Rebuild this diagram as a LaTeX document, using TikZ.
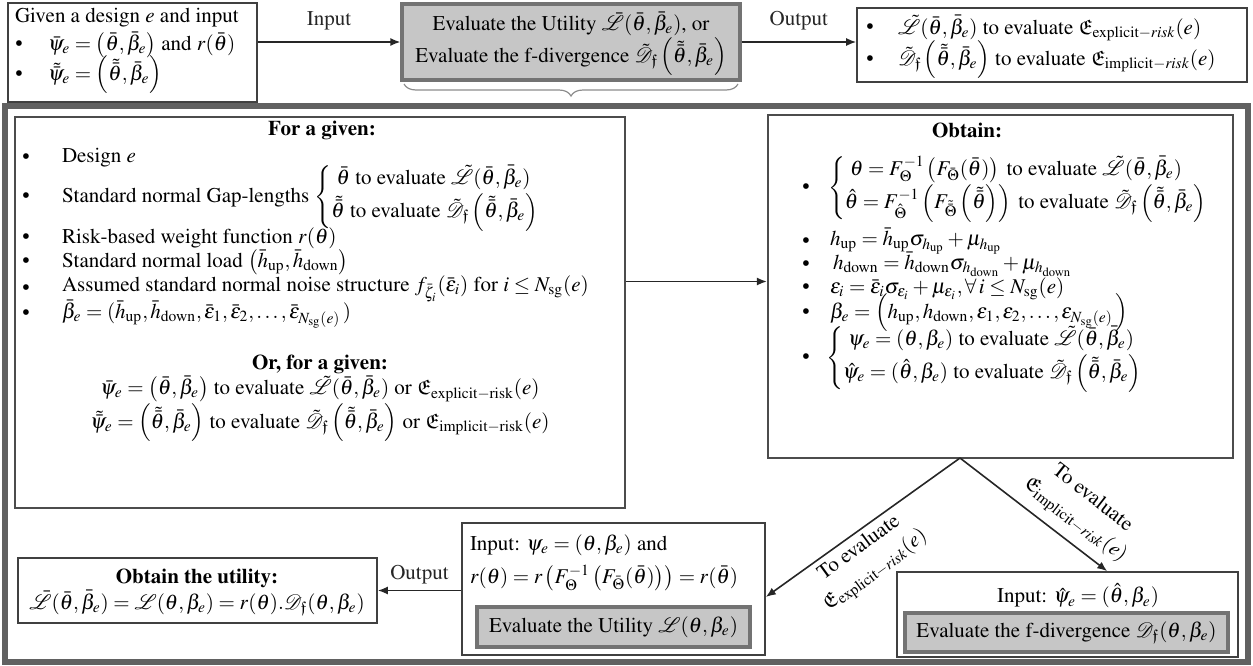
\documentclass[tikz,border=0pt]{standalone}
\usepackage{amsmath,amssymb}
\usepackage[T1]{fontenc}
\usepackage{mathptmx}
\usetikzlibrary{arrows.meta,fit,calc,decorations.pathreplacing}
\tikzset{
  every node/.style={font=\fontsize{10.5}{12.6}\selectfont},
  txt/.style={inner sep=0pt, outer sep=0pt},
  box/.style={draw=black!75, line width=0.8pt, inner sep=0pt, fill=white},
  inbox/.style={draw=black!70, line width=1.1pt, inner sep=0pt, fill=white},
  graybox/.style={draw=black!55, line width=1.6pt, inner sep=0pt, fill=gray!45},
  frame/.style={draw=black!62, line width=2.6pt, inner sep=0pt},
  arr/.style={-{Latex[length=5pt,width=4pt]}, line width=0.8pt, black!85},
  bul/.style={inner sep=0pt, outer sep=0pt}
}
\newcommand{\Lt}{\tilde{\mathcal{L}}}
\newcommand{\Lb}{\bar{\mathcal{L}}}
\newcommand{\Dt}{\tilde{\mathcal{D}}_{\mathfrak{f}}}
\newcommand{\Df}{\mathcal{D}_{\mathfrak{f}}}
\newcommand{\tb}{\bar{\theta}}
\newcommand{\ttb}{\tilde{\bar{\theta}}}
\newcommand{\bb}{\bar{\beta}_e}
\newcommand{\up}{\text{up}}
\newcommand{\dn}{\text{down}}
\newcommand{\bu}{\textbullet}
\begin{document}
\begin{tikzpicture}[x=0.5pt,y=-0.5pt]
\useasboundingbox (0,0) rectangle (1253,665);
% ---------- top row ----------
\node[box, fit={(8,3) (257,102)}] (tl) {};
\node[txt, anchor=west] (tl1) at (15,18) {Given a design $e$ and input};
\node[bul] (tlb1) at (19,46) {\bu};
\node[txt, anchor=west] (tl2) at (48,45) {$\bar{\psi}_e=\left(\tb,\bb\right)$ and $r(\tb)$};
\node[bul] (tlb2) at (19,76) {\bu};
\node[txt, anchor=west] (tl3) at (48,75) {$\tilde{\bar{\psi}}_e=\left(\ttb,\bb\right)$};

\node[graybox, fit={(402,4) (740,80)}] (ev) {};
\node[txt] (ev1) at (571,24) {Evaluate the Utility $\Lb(\tb,\bb)$, or};
\node[txt] (ev2) at (571,57) {Evaluate the f-divergence $\Dt\left(\ttb,\bb\right)$};
\draw[decorate, decoration={brace, mirror, amplitude=6pt}, black!45, line width=0.6pt] (404,84) -- (738,84);

\node[box, fit={(857,8) (1247,82)}] (tr) {};
\node[bul] (trb1) at (870,29) {\bu};
\node[txt, anchor=west] (tr1) at (898,28) {$\Lt(\tb,\bb)$ to evaluate $\mathfrak{E}_{\text{explicit}-\mathit{risk}}(e)$};
\node[bul] (trb2) at (870,61) {\bu};
\node[txt, anchor=west] (tr2) at (898,60) {$\Dt\left(\ttb,\bb\right)$ to evaluate $\mathfrak{E}_{\text{implicit}-\mathit{risk}}(e)$};

\draw[arr] (ev.west -| tl.east) -- (ev.west) node[midway, above=6pt, txt] (lin) {Input};
\draw[arr] (ev.east) -- (ev.east -| tr.west) node[midway, above=6pt, txt] (lout) {Output};

% ---------- frame ----------
\node[frame, fit={(5,106) (1248,662)}] (fr) {};

% ---------- left box ----------
\node[inbox, fit={(15,117) (625,508)}] (lb) {};
\node[txt] (lbh) at (322,130) {\textbf{For a given:}};
\node[bul] (lbb1) at (26,159) {\bu};
\node[txt, anchor=west] (lb1) at (62,158) {Design $e$};
\node[bul] (lbb2) at (26,198) {\bu};
\node[txt, anchor=west] (lb2) at (62,197) {Standard normal Gap-lengths $\begin{cases}\ \tb\text{ to evaluate }\Lt(\tb,\bb)\\ \ttb\text{ to evaluate }\Dt\left(\ttb,\bb\right)\end{cases}$};
\node[bul] (lbb3) at (26,239) {\bu};
\node[txt, anchor=west] (lb3) at (62,238) {Risk-based weight function $r(\theta)$};
\node[bul] (lbb4) at (26,263) {\bu};
\node[txt, anchor=west] (lb4) at (62,262) {Standard normal load $\left(\bar h_{\up},\bar h_{\dn}\right)$};
\node[bul] (lbb5) at (26,290) {\bu};
\node[txt, anchor=west] (lb5) at (62,289) {Assumed standard normal noise structure $f_{\bar\zeta_i}(\bar\varepsilon_i)$ for $i\le N_{\text{sg}}(e)$};
\node[bul] (lbb6) at (26,315) {\bu};
\node[txt, anchor=west] (lb6) at (62,314) {$\bar\beta_e=(\bar h_{\up},\bar h_{\dn},\bar\varepsilon_1,\bar\varepsilon_2,\dots,\bar\varepsilon_{N_{\text{sg}}(e)}\,)$};
\node[txt] (lbo) at (320,364) {\textbf{Or, for a given:}};
\node[txt] (lb7) at (320,389) {$\bar\psi_e=\left(\tb,\bb\right)$ to evaluate $\Lt(\tb,\bb)$ or $\mathfrak{E}_{\text{explicit}-\text{risk}}(e)$};
\node[txt] (lb8) at (320,423) {$\tilde{\bar\psi}_e=\left(\ttb,\bb\right)$ to evaluate $\Dt\left(\ttb,\bb\right)$ or $\mathfrak{E}_{\text{implicit}-\text{risk}}(e)$};

% ---------- obtain box ----------
\node[inbox, fit={(768,115) (1233,458)}] (ob) {};
\node[txt] (obh) at (967,130) {\textbf{Obtain:}};
\node[bul] (obb1) at (806,189) {\bu};
\node[txt, anchor=west] (ob1) at (828,188) {$\begin{cases}\ \theta=F_{\Theta}^{-1}\left(F_{\bar\Theta}(\tb)\right)\text{ to evaluate }\Lt(\tb,\bb)\\ \hat\theta=F_{\hat\Theta}^{-1}\left(F_{\tilde{\bar\Theta}}\left(\ttb\right)\right)\text{ to evaluate }\Dt\left(\ttb,\bb\right)\end{cases}$};
\node[bul] (obb2) at (806,243) {\bu};
\node[txt, anchor=west] (ob2) at (830,241) {$h_{\up}=\bar h_{\up}\sigma_{h_{\up}}+\mu_{h_{\up}}$};
\node[bul] (obb3) at (806,266) {\bu};
\node[txt, anchor=west] (ob3) at (833,264) {$h_{\dn}=\bar h_{\dn}\sigma_{h_{\dn}}+\mu_{h_{\dn}}$};
\node[bul] (obb4) at (806,289) {\bu};
\node[txt, anchor=west] (ob4) at (830,289) {$\varepsilon_i=\bar\varepsilon_i\sigma_{\varepsilon_i}+\mu_{\varepsilon_i},\forall\, i\le N_{\text{sg}}(e)$};
\node[bul] (obb5) at (806,314) {\bu};
\node[txt, anchor=west] (ob5) at (830,313) {$\beta_e=\left(h_{\up},h_{\dn},\varepsilon_1,\varepsilon_2,\dots,\varepsilon_{N_{\text{sg}}(e)}\,\right)$};
\node[bul] (obb6) at (806,359) {\bu};
\node[txt, anchor=west] (ob6) at (826,358) {$\begin{cases}\ \psi_e=(\theta,\beta_e)\text{ to evaluate }\Lt(\tb,\bb)\\ \hat\psi_e=(\hat\theta,\beta_e)\text{ to evaluate }\Dt\left(\ttb,\bb\right)\end{cases}$};

\draw[arr] ([yshift=2.5pt]ob.west -| lb.east) -- ([yshift=2.5pt]ob.west);

% ---------- bottom row ----------
\node[box, fit={(18,558) (377,623)}] (bl) {};
\node[txt] (bl1) at (197,578) {\textbf{Obtain the utility:}};
\node[txt] (bl2) at (197,603) {$\Lb(\tb,\bb)=\mathcal{L}(\theta,\beta_e)=r(\theta).\Df(\theta,\beta_e)$};

\node[box, fit={(462,523) (765,655)}] (md) {};
\node[txt, anchor=west] (md1) at (470,545) {Input: $\psi_e=(\theta,\beta_e)$ and};
\node[txt, anchor=west] (md2) at (470,578) {$r(\theta)=r\left(F_{\Theta}^{-1}\left(F_{\bar\Theta}(\tb)\right)\right)=r(\tb)$};
\node[graybox, fit={(477,607) (750,647)}] (mdg) {};
\node[txt] (mdg1) at (mdg) {Evaluate the Utility $\mathcal{L}(\theta,\beta_e)$};

\node[box, fit={(897,572) (1238,657)}] (br) {};
\node[txt] (br1) at (1078,596) {Input: $\hat\psi_e=(\hat\theta,\beta_e)$};
\node[graybox, fit={(905,613) (1228,652)}] (brg) {};
\node[txt] (brg1) at (brg) {Evaluate the f-divergence $\Df(\theta,\beta_e)$};

\draw[arr] (md.west |- bl.east) -- (bl.east) node[midway, above=3pt, txt] (lout2) {Output};

% ---------- branches ----------
\coordinate (apex) at (960,458);
\coordinate (rtip) at ($(br.north west)!0.616!(br.north east)$);
\draw[arr] (apex) -- ([yshift=-4pt]md.east);
\draw[arr] (apex) -- (rtip);
\node[txt, rotate=36, align=center] (la) at (868,560) {To evaluate\\[1pt]$\mathfrak{E}_{\text{explicit}-\mathit{risk}}(e)$};
\node[txt, rotate=-38, align=center] (lr) at (1083,510) {To evaluate\\[1pt]$\mathfrak{E}_{\text{implicit}-\mathit{risk}}(e)$};
\end{tikzpicture}
\end{document}
